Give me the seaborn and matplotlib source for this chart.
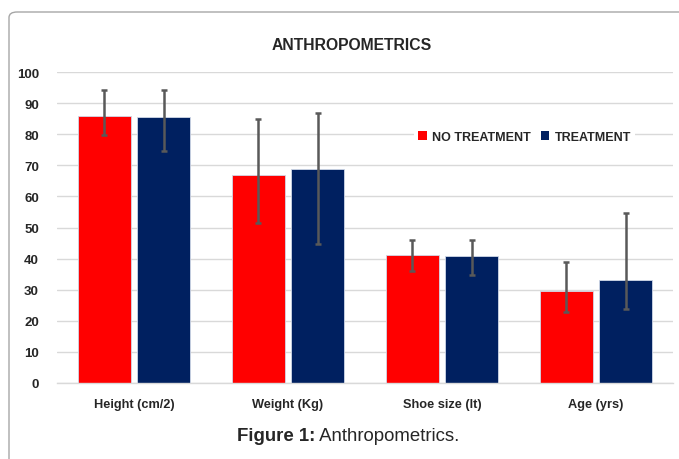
import matplotlib
matplotlib.use("Agg")
import matplotlib.pyplot as plt
import seaborn as sns
import pandas as pd
import numpy as np
from matplotlib.patches import FancyBboxPatch, Patch

categories = ["Height (cm/2)", "Weight (Kg)", "Shoe size (lt)", "Age (yrs)"]
groups = ["NO TREATMENT", "TREATMENT"]
no_treatment = [86.0, 66.8, 41.0, 29.6]
treatment = [85.6, 68.9, 40.7, 33.1]
no_treatment_err_low = [79.8, 51.6, 35.9, 22.9]
no_treatment_err_high = [94.2, 84.8, 46.0, 39.0]
treatment_err_low = [74.7, 44.7, 34.7, 23.7]
treatment_err_high = [94.2, 86.9, 46.0, 54.7]
yticks = [0, 10, 20, 30, 40, 50, 60, 70, 80, 90, 100]

colors = ["#FF0000", "#002060"]

df = pd.DataFrame({
    "category": categories * 2,
    "group": [groups[0]] * 4 + [groups[1]] * 4,
    "value": no_treatment + treatment,
})

sns.set_theme(style="white")
plt.rcParams["font.family"] = ["Liberation Sans", "DejaVu Sans"]

fig = plt.figure(figsize=(6.79, 4.6), dpi=100)
ax = fig.add_axes([57/679, 1-384/460, 616/679, 311/460])

sns.barplot(data=df, x="category", y="value", hue="group", order=categories,
            hue_order=groups, palette=colors, width=0.77, gap=0.1,
            errorbar=None, ax=ax, legend=False, edgecolor="#D0D8E8", linewidth=0.6,
            saturation=1)

lows = [no_treatment_err_low, treatment_err_low]
highs = [no_treatment_err_high, treatment_err_high]
vals = [no_treatment, treatment]
bar_containers = list(ax.containers)
for i, cont in enumerate(bar_containers):
    xs = [p.get_x() + p.get_width()/2 for p in cont.patches]
    v = np.array(vals[i]); lo = np.array(lows[i]); hi = np.array(highs[i])
    ax.errorbar(xs, v, yerr=[v - lo, hi - v], fmt="none", ecolor="#595959",
                elinewidth=1.8, capsize=2.3, capthick=1.8, zorder=5)

ax.set_ylim(0, 100)
ax.set_xlim(-0.5, 3.5)
ax.set_yticks(yticks)
ax.set_yticklabels([str(t) for t in yticks], fontweight="bold", fontsize=9.5)
ax.set_xticks(range(4))
ax.set_xticklabels(categories, fontweight="bold", fontsize=9.2)
ax.tick_params(axis="x", length=0, pad=11)
ax.tick_params(axis="y", length=0, pad=13)
ax.set_xlabel("")
ax.set_ylabel("")
ax.grid(axis="y", color="#D9D9D9", linewidth=1)
ax.set_axisbelow(True)
for s in ["top", "right", "left"]:
    ax.spines[s].set_visible(False)
ax.spines["bottom"].set_color("#D9D9D9")
ax.spines["bottom"].set_linewidth(1)

handles = [Patch(facecolor=c, edgecolor="none") for c in colors]
leg = ax.legend(handles, groups, ncol=2, loc="center", bbox_to_anchor=(0.759, 0.791),
                frameon=True, facecolor="white", edgecolor="none", framealpha=1,
                handlelength=0.7, handleheight=0.7, handletextpad=0.4, columnspacing=0.8,
                prop={"weight": "bold", "size": 9}, borderpad=0.3, fancybox=False)

fig.text(352/679, 1-46/460, "ANTHROPOMETRICS", ha="center", va="center",
         fontweight="bold", fontsize=11.3)

# figure border
border = FancyBboxPatch((9/679, -0.1), 1.0, 1 - 13/460 + 0.1,
                        boxstyle="round,pad=0,rounding_size=0.012",
                        transform=fig.transFigure, facecolor="none",
                        edgecolor="#A6A6A6", linewidth=1.0, zorder=-1)
fig.patches.append(border)

# caption
fig.canvas.draw()
r = fig.canvas.get_renderer()
t1 = fig.text(0, 1-437/460, "Figure 1:", fontweight="bold", fontsize=13.4, va="center")
t2 = fig.text(0, 1-437/460, " Anthropometrics.", fontsize=13.4, va="center")
w1 = t1.get_window_extent(r).width
w2 = t2.get_window_extent(r).width
x0 = 348 - (w1 + w2) / 2
t1.set_x(x0 / 679)
t2.set_x((x0 + w1) / 679)

fig.savefig("out.png", dpi=100)
